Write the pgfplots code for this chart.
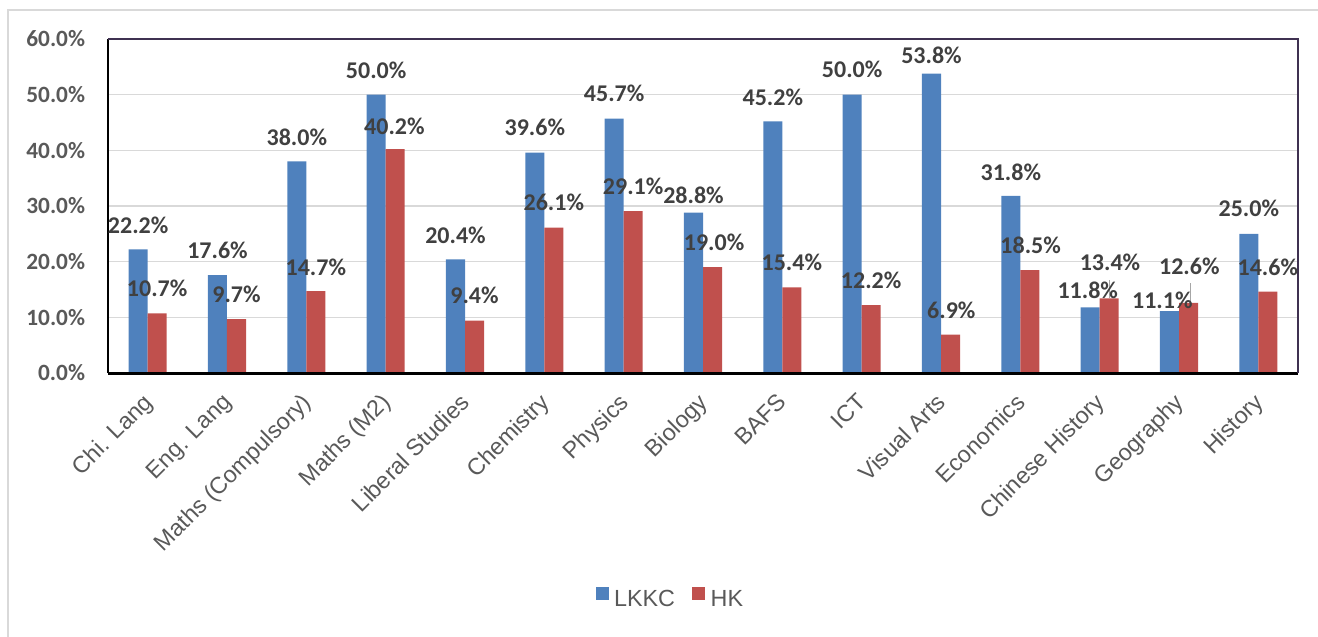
\documentclass[border=0pt]{standalone}
\usepackage{pgfplots}
\pgfplotsset{compat=1.18}
\usepackage{fontspec}
\setmainfont{Liberation Sans}
\newfontfamily\carlito{Carlito}
\definecolor{cblue}{HTML}{4F81BD}
\definecolor{cred}{HTML}{C0504D}
\definecolor{labc}{HTML}{404040}
\definecolor{tickc}{HTML}{595959}
\definecolor{gridc}{HTML}{D9D9D9}
\definecolor{framec}{HTML}{3F3151}
\definecolor{leadc}{HTML}{A6A6A6}
\begin{document}
\begin{tikzpicture}
\path[use as bounding box] (-81pt,-197.25pt) rectangle (907.5pt,279.75pt);
\draw[gridc, line width=1.1pt] (-75pt,-200pt) -- (-75pt,272.25pt) -- (910pt,272.25pt);
\begin{axis}[
 at={(0,0)}, anchor=south west,
 width=892.5pt, height=250.5pt, scale only axis,
 xmin=-0.5, xmax=14.5, ymin=0, ymax=60,
 axis line style={draw=none},
 xtick={0,...,14},
 xticklabels={Chi. Lang, Eng. Lang, Maths (Compulsory), Maths (M2), Liberal Studies, Chemistry, Physics, Biology, BAFS, ICT, Visual Arts, Economics, Chinese History, Geography, History},
 ytick={0,10,...,60},
 yticklabels={0.0\%,10.0\%,20.0\%,30.0\%,40.0\%,50.0\%,60.0\%},
 major tick length=0pt,
 ymajorgrids, grid style={gridc, line width=1.1pt},
 yticklabel style={font=\carlito\bfseries\fontsize{17.5pt}{18pt}\selectfont, text=tickc, anchor=east, inner sep=0pt, xshift=-17pt},
 xticklabel style={font=\fontsize{17.5pt}{18pt}\selectfont, text=tickc, rotate=45, anchor=north east, inner sep=0pt, xshift=-13pt, yshift=-6.7pt},
 legend style={at={(0.474,-0.677)}, anchor=center, draw=none, fill=none, legend columns=2,
   font=\fontsize{17.5pt}{18pt}\selectfont, text=tickc,
   nodes={inner xsep=4pt},
   /tikz/every even column/.append style={column sep=9pt}},
 clip=false,
]
\addplot[ybar, bar width=0.24, bar shift=-0.12, fill=cblue, draw=none,
  legend image code/.code={\fill[cblue] (0pt,0pt) rectangle (9.75pt,9.75pt);}] coordinates {
(0,22.2) (1,17.6) (2,38.0) (3,50.0) (4,20.4) (5,39.6) (6,45.7) (7,28.8) (8,45.2) (9,50.0) (10,53.8) (11,31.8) (12,11.8) (13,11.1) (14,25.0)};
\addlegendentry{LKKC}
\addplot[ybar, bar width=0.24, bar shift=0.12, fill=cred, draw=none,
  legend image code/.code={\fill[cred] (0pt,0pt) rectangle (9.75pt,9.75pt);}] coordinates {
(0,10.7) (1,9.7) (2,14.7) (3,40.2) (4,9.4) (5,26.1) (6,29.1) (7,19.0) (8,15.4) (9,12.2) (10,6.9) (11,18.5) (12,13.4) (13,12.6) (14,14.6)};
\addlegendentry{HK}
\addplot[leadc, line width=0.75pt, forget plot] coordinates {(12.13,13.5) (12.13,16.7)};
\addplot[leadc, line width=0.75pt, forget plot] coordinates {(13.14,12.7) (13.14,16.2)};
\addplot[draw=none, mark=none, forget plot, nodes near coords, point meta=explicit symbolic,
  nodes near coords style={anchor=center, font=\carlito\bfseries\fontsize{18pt}{18pt}\selectfont, text=labc, inner sep=0pt}] coordinates {
(-0.12,26.6) [22.2\%]
(0.88,22.1) [17.6\%]
(1.88,42.4) [38.0\%]
(2.88,54.4) [50.0\%]
(3.88,24.8) [20.4\%]
(4.88,44.2) [39.6\%]
(5.88,50.3) [45.7\%]
(6.88,32.0) [28.8\%]
(7.88,49.6) [45.2\%]
(8.88,54.6) [50.0\%]
(9.88,57.0) [53.8\%]
(10.88,36.1) [31.8\%]
(11.85,14.9) [11.8\%]
(12.79,13.1) [11.1\%]
(13.88,29.6) [25.0\%]
};
\addplot[draw=none, mark=none, forget plot, nodes near coords, point meta=explicit symbolic,
  nodes near coords style={anchor=center, font=\carlito\bfseries\fontsize{18pt}{18pt}\selectfont, text=labc, inner sep=0pt}] coordinates {
(0.12,15.3) [10.7\%]
(1.12,14.2) [9.7\%]
(2.12,19.0) [14.7\%]
(3.11,44.4) [40.2\%]
(4.12,14.0) [9.4\%]
(5.12,30.7) [26.1\%]
(6.12,33.6) [29.1\%]
(7.14,23.4) [19.0\%]
(8.12,19.8) [15.4\%]
(9.12,16.7) [12.2\%]
(10.13,11.3) [6.9\%]
(11.13,23.0) [18.5\%]
(12.13,19.8) [13.4\%]
(13.13,19.2) [12.6\%]
(14.12,19.0) [14.6\%]
};
\draw[black, line width=2.25pt] (rel axis cs:0,0) -- (rel axis cs:1,0);
\draw[black, line width=1.5pt] (rel axis cs:0,0) -- (rel axis cs:0,1);
\draw[framec, line width=1.1pt] (rel axis cs:0,1) -- (rel axis cs:1,1) -- (rel axis cs:1,0);
\end{axis}
\end{tikzpicture}
\end{document}
